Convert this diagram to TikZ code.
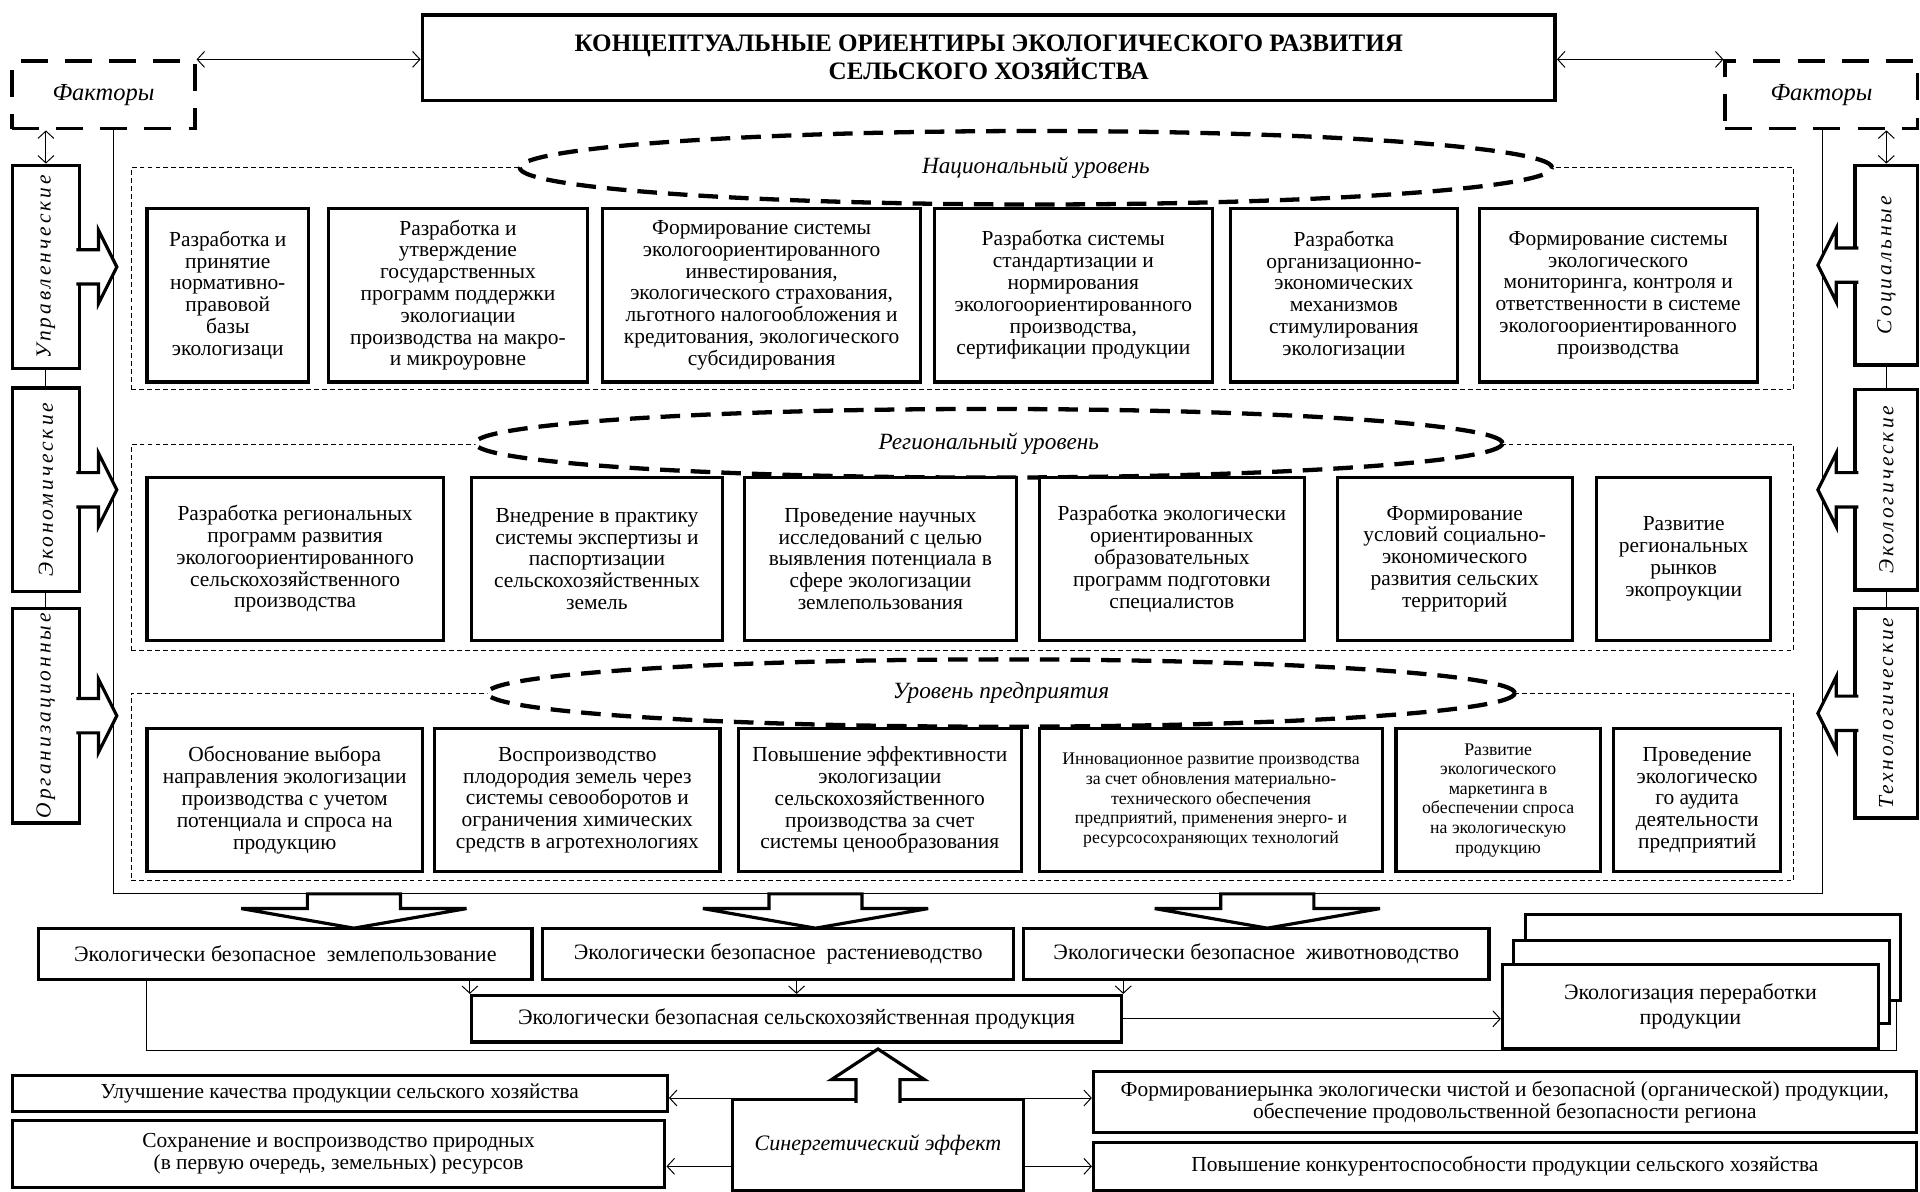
\documentclass[tikz,border=0pt]{standalone}
\usepackage{fontspec}
\setmainfont{Liberation Serif}
\newfontfamily\sidefont[LetterSpace=14]{Liberation Serif}
\usepackage{tikz}
\usetikzlibrary{
	arrows.meta,calc,shapes.geometric
}

\begin{document}
\begin{tikzpicture}[x=1pt,y=-1pt,>={Straight Barb[length=6pt,width=13pt]},
	box/.style={draw,line width=2.6pt,fill=white,align=center,inner sep=1pt,font=\fontsize{17.5}{17.8}\selectfont},
	sbox/.style={box,font=\fontsize{14.5}{16}\selectfont},
	obox/.style={box,font=\fontsize{18}{20}\selectfont},
	fac/.style={draw,line width=3pt,dash pattern=on 22pt off 14pt,font=\itshape\fontsize{20}{22}\selectfont},
	side/.style={draw,line width=2.8pt,fill=white},
	vlab/.style={rotate=90,inner sep=0pt,font=\sidefont\itshape\fontsize{17.5}{18}\selectfont},
	lvl/.style={draw,line width=0.8pt,dash pattern=on 4pt off 2.5pt},
	oval/.style={draw,ellipse,fill=white,line width=3.5pt,dash pattern=on 16pt off 9pt,inner sep=0pt,font=\itshape\fontsize{19}{20}\selectfont},
	ln/.style={line width=0.8pt},
	blk/.style={draw,fill=white,line width=2.6pt}]
		\useasboundingbox (0,0) rectangle (1568,973);
		%
		\node[draw,line width=3pt,minimum width=925pt,minimum height=70pt,align=center,font=\bfseries\fontsize{20.5}{21}\selectfont] (title) at (807.5,47) {КОНЦЕПТУАЛЬНЫЕ ОРИЕНТИРЫ ЭКОЛОГИЧЕСКОГО РАЗВИТИЯ\\СЕЛЬСКОГО ХОЗЯЙСТВА};
		\node[fac,minimum width=149pt,minimum height=55pt] (fl) at (84.5,77.5) {Факторы};
		\node[fac,minimum width=157pt,minimum height=55pt] (fr) at (1487.5,77.5) {Факторы};
		%
		\coordinate (fbl) at (93,730);
		\coordinate (fbr) at (1488,730);
		\draw[ln] (fbl |- fl.south) -- (fbl) -- (fbr) -- (fbr |- fr.south);
		%
		\node[lvl,minimum width=1358pt,minimum height=181pt] (nat) at (786,227.5) {};
		\node[lvl,minimum width=1358pt,minimum height=168pt] (reg) at (786,447) {};
		\node[lvl,minimum width=1358pt,minimum height=153pt] (ent) at (786,642.5) {};
		\node[oval,minimum width=843pt,minimum height=60pt] (ovn) at (846,137) {\raisebox{-4pt}{Национальный уровень}};
		\node[oval,minimum width=839pt,minimum height=56pt] (ovr) at (807.5,362) {Региональный уровень};
		\node[oval,minimum width=839pt,minimum height=55pt] (ove) at (817.5,566) {\raisebox{-2pt}{Уровень предприятия}};
		%
		\node[box,minimum width=132pt,minimum height=142pt] (n1) at (186,241) {Разработка и\\принятие\\нормативно-\\правовой\\базы\\экологизаци};
		\node[box,minimum width=212pt,minimum height=142pt] (n2) at (374,241) {Разработка и\\утверждение\\государственных\\программ поддержки\\экологиации\\производства на макро-\\и микроуровне};
		\node[box,minimum width=260pt,minimum height=142pt] (n3) at (622,241) {Формирование системы\\экологоориентированного\\инвестирования,\\экологического страхования,\\льготного налогообложения и\\кредитования, экологического\\субсидирования};
		\node[box,minimum width=227pt,minimum height=142pt] (n4) at (876.5,241) {Разработка системы\\стандартизации и\\нормирования\\экологоориентированного\\производства,\\сертификации продукции};
		\node[box,minimum width=185pt,minimum height=142pt] (n5) at (1097.5,241) {Разработка\\организационно-\\экономических\\механизмов\\стимулирования\\экологизации};
		\node[box,minimum width=227pt,minimum height=142pt] (n6) at (1321.5,241) {Формирование системы\\экологического\\мониторинга, контроля и\\ответственности в системе\\экологоориентированного\\производства};
		%
		\node[box,minimum width=242pt,minimum height=133pt] (r1) at (241,456.5) {Разработка региональных\\программ развития\\экологоориентированного\\сельскохозяйственного\\производства};
		\node[box,minimum width=205pt,minimum height=133pt] (r2) at (487.5,456.5) {Внедрение в практику\\системы экспертизы и\\паспортизации\\сельскохозяйственных\\земель};
		\node[box,minimum width=222pt,minimum height=133pt] (r3) at (719,456.5) {Проведение научных\\исследований с целью\\выявления потенциала в\\сфере экологизации\\землепользования};
		\node[box,minimum width=216pt,minimum height=133pt] (r4) at (957,456.5) {Разработка экологически\\ориентированных\\образовательных\\программ подготовки\\специалистов};
		\node[box,minimum width=192pt,minimum height=133pt] (r5) at (1188,456.5) {Формирование\\условий социально-\\экономического\\развития сельских\\территорий};
		\node[box,minimum width=142pt,minimum height=133pt] (r6) at (1375,456.5) {Развитие\\региональных\\рынков\\экопроукции};
		%
		\node[box,minimum width=225pt,minimum height=117pt] (e1) at (232.5,653.5) {Обоснование выбора\\направления экологизации\\производства с учетом\\потенциала и спроса на\\продукцию};
		\node[box,minimum width=233pt,minimum height=117pt] (e2) at (471.5,653.5) {Воспроизводство\\плодородия земель через\\системы севооборотов и\\ограничения химических\\средств в агротехнологиях};
		\node[box,minimum width=231pt,minimum height=117pt] (e3) at (718.5,653.5) {Повышение эффективности\\экологизации\\сельскохозяйственного\\производства за счет\\системы ценообразования};
		\node[sbox,minimum width=280pt,minimum height=117pt] (e4) at (989,653.5) {Инновационное развитие производства\\за счет обновления материально-\\технического обеспечения\\предприятий, применения энерго- и\\ресурсосохраняющих технологий};
		\node[sbox,minimum width=167pt,minimum height=117pt] (e5) at (1223.5,653.5) {Развитие\\экологического\\маркетинга в\\обеспечении спроса\\на экологическую\\продукцию};
		\node[box,minimum width=136pt,minimum height=117pt] (e6) at (1386,653.5) {Проведение\\экологическо\\го аудита\\деятельности\\предприятий};
		%
		\node[side,minimum width=55pt,minimum height=166pt] (s1) at (37.5,218) {};
		\node[side,minimum width=55pt,minimum height=166pt] (s2) at (37.5,400) {};
		\node[side,minimum width=55pt,minimum height=175pt] (s3) at (37.5,584.5) {};
		\node[side,minimum width=51pt,minimum height=163pt] (t1) at (1540.5,216.5) {};
		\node[side,minimum width=51pt,minimum height=164pt] (t2) at (1540.5,400) {};
		\node[side,minimum width=51pt,minimum height=171pt] (t3) at (1540.5,582.5) {};
		\node[vlab] (s1t) at (s1) {Управленческие};
		\node[vlab] (s2t) at (s2) {Экономические};
		\node[vlab] (s3t) at (s3) {Организационные};
		\node[vlab] (t1t) at (t1) {Социальные};
		\node[vlab] (t2t) at (t2) {Экологические};
		\node[vlab] (t3t) at (t3) {Технологические};
		\foreach \s in {s1,s2,s3}
			\draw[blk] ($(\s.east)+(-4,-14)$) -- ++(18,0) -- ++(0,-16) -- ($(\s.east)+(29,0)$) -- ($(\s.east)+(14,30)$) -- ++(0,-16) -- ++(-18,0);
		\foreach \s in {t1,t2,t3}
			\draw[blk] ($(\s.west)+(4,-14)$) -- ++(-18,0) -- ++(0,-16) -- ($(\s.west)+(-29,0)$) -- ($(\s.west)+(-14,30)$) -- ++(0,-16) -- ++(18,0);
		%
		\path[ln]
		(s1) edge (s2)
		(s2) edge (s3)
		(t1) edge (t2)
		(t2) edge (t3);
		\path[ln,<->]
		(fl.north east) edge (fl.north east -| title.west)
		(fr.north west) edge (fr.north west -| title.east)
		(s1.north |- fl.south) edge (s1.north)
		(t1.north |- fr.south) edge (t1.north);
		%
		\foreach \c in {289,666,1035}
			\draw[blk] (\c-38,730) -- (\c+38,730) -- (\c+38,742) -- (\c+92,742) -- (\c,758) -- (\c-92,742) -- (\c-38,742) -- cycle;
		%
		\node[obox,minimum width=403pt,minimum height=42pt] (o1) at (233,779) {Экологически безопасное\ \ землепользование};
		\node[obox,minimum width=385pt,minimum height=42pt] (o2) at (635.5,779) {Экологически безопасное\ \ растениеводство};
		\node[obox,minimum width=380pt,minimum height=42pt] (o3) at (1026,779) {Экологически безопасное\ \ животноводство};
		\node[obox,minimum width=531pt,minimum height=38pt] (p) at (650.5,832) {Экологически безопасная сельскохозяйственная продукция};
		\node[obox,minimum width=306pt,minimum height=70pt] (prc3) at (1399,782) {};
		\node[obox,minimum width=307pt,minimum height=68pt] (prc2) at (1389.5,802) {};
		\node[obox,minimum width=307pt,minimum height=68pt] (prc1) at (1380.5,822) {Экологизация переработки\\продукции};
		%
		\path[ln,->]
		(o1.south -| p.west) edge (p.north west)
		(o2.south -| p.north) edge (p.north)
		(o3.south -| p.east) edge (p.north east)
		(p.east) edge (p.east -| prc1.west);
		\coordinate (c1) at (120,858);
		\coordinate (c2) at (1549,858);
		\draw[ln] (o1.south -| c1) -- (c1) -- (c2) -- (c2 |- prc3.south);
		%
		\node[box,font=\itshape\fontsize{18}{20}\selectfont,minimum width=238pt,minimum height=74pt] (syn) at (717,935) {Синергетический эффект};
		\draw[blk] ($(syn.north)+(-18,4)$) -- ++(0,-19) -- ++(-20,0) -- ($(syn.north)+(0,-40)$) -- ($(syn.north)+(38,-15)$) -- ++(-20,0) -- ++(0,19);
		\node[box,minimum width=535pt,minimum height=30pt] (L1) at (277.5,893) {Улучшение качества продукции сельского хозяйства};
		\node[box,minimum width=533pt,minimum height=55pt] (L2) at (276.5,942.5) {Сохранение и воспроизводство природных\\(в первую очередь, земельных) ресурсов};
		\node[box,minimum width=672pt,minimum height=50pt] (R1) at (1229,900) {Формированиерынка экологически чистой и безопасной (органической) продукции,\\обеспечение продовольственной безопасности региона};
		\node[box,minimum width=672pt,minimum height=39pt] (R2) at (1229,952.5) {Повышение конкурентоспособности продукции сельского хозяйства};
		%
		\path[ln,->]
		(syn.north west) edge (syn.north west -| L1.east)
		([yshift=-10pt]L2.east -| syn.west) edge ([yshift=-10pt]L2.east)
		(syn.north east) edge (syn.north east -| R1.west)
		(syn.east |- R2.west) edge (R2.west);
\end{tikzpicture}
\end{document}
